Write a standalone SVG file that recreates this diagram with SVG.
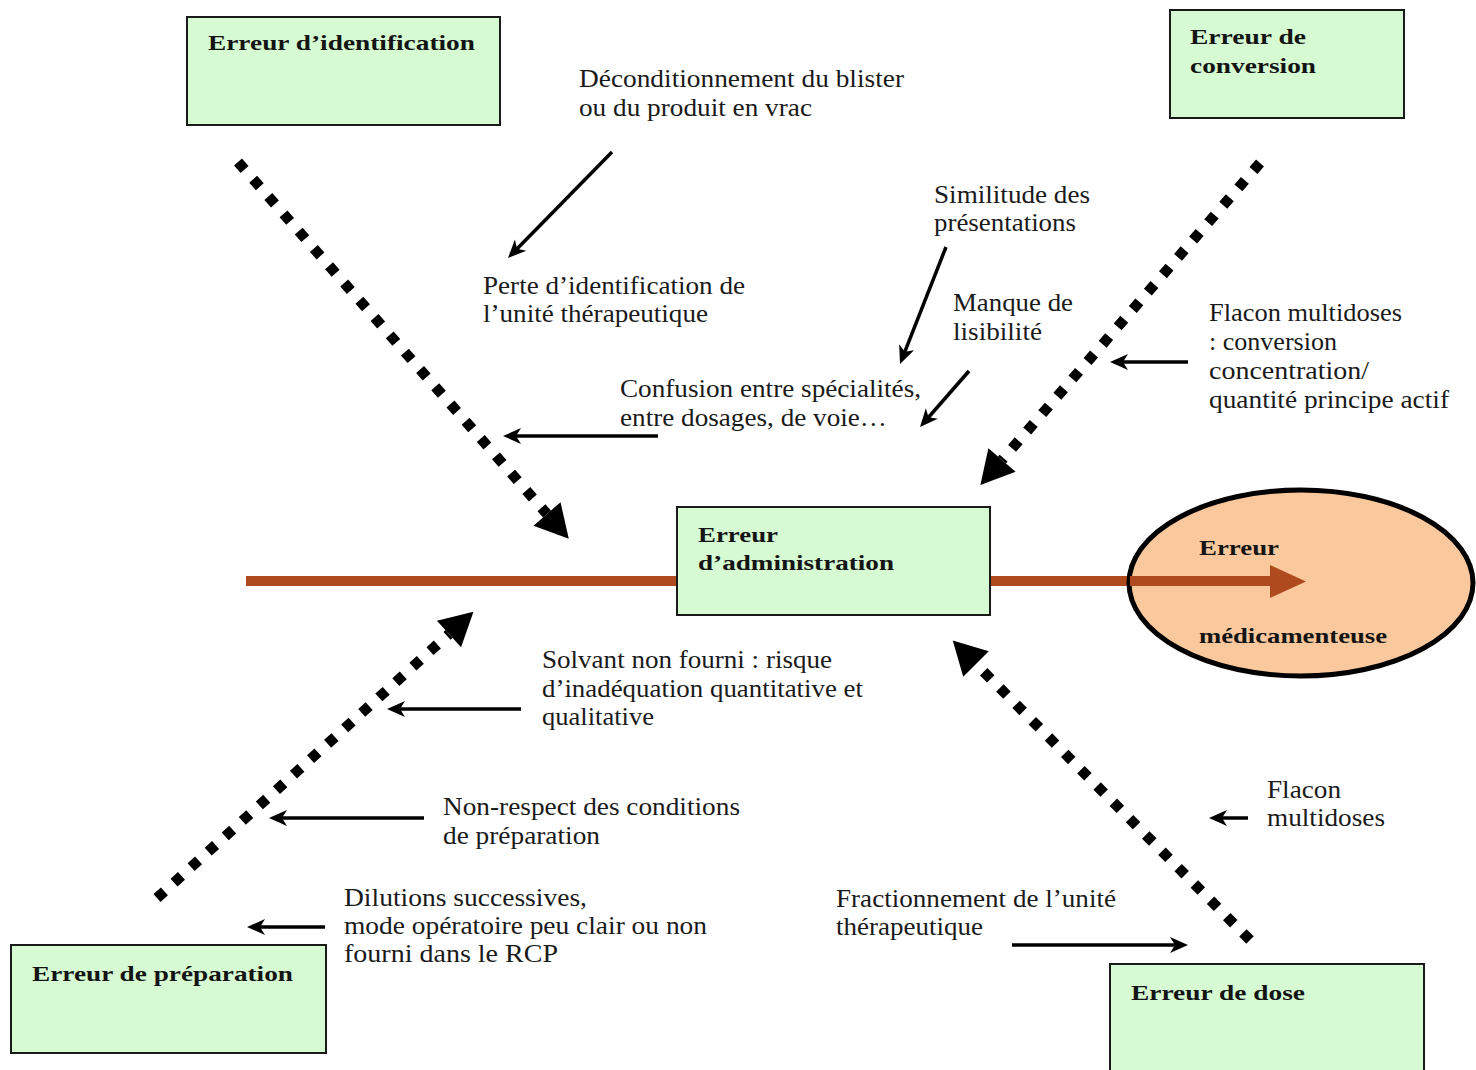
<svg xmlns="http://www.w3.org/2000/svg" width="1476" height="1070" viewBox="0 0 1476 1070">
  <style>
    .box { fill: #D6FBD2; stroke: #1a1a1a; stroke-width: 2; }
    .effect { fill: #F9C89C; stroke: #000; stroke-width: 5; }
    .title { font-family: "Liberation Serif", "Times New Roman", serif; font-weight: bold; font-size: 21px; fill: #141414; }
    .note { font-family: "Liberation Serif", "Times New Roman", serif; font-size: 25px; fill: #1a1a1a; }
    .spine { stroke: #AE4A1E; stroke-width: 10; fill: none; }
    .branch { stroke: #000; stroke-width: 10.5; stroke-dasharray: 10 13; fill: none; }
    .cause { stroke: #000; stroke-width: 3.5; fill: none; }
  </style>
  <defs>
    <marker id="bigHead" markerUnits="userSpaceOnUse" markerWidth="34" markerHeight="36" refX="0" refY="18" orient="auto" overflow="visible">
      <path d="M0,0 L33,18 L0,36 z" fill="#000"/>
    </marker>
    <marker id="smallHead" markerUnits="userSpaceOnUse" markerWidth="18" markerHeight="16" refX="6" refY="8" orient="auto" overflow="visible">
      <path d="M0,0 L18,8 L0,16 L5,8 z" fill="#000"/>
    </marker>
  </defs>

  <rect x="0" y="0" width="1476" height="1070" fill="#fff"/>

  <!-- main spine leading to the effect -->
  <g id="connectors">
    <line class="spine" x1="246" y1="581" x2="1272" y2="581"/>

    <!-- dotted category branches -->
    <line class="branch" x1="238" y1="162" x2="547" y2="514" marker-end="url(#bigHead)"/>
    <line class="branch" x1="1260" y1="163" x2="1002" y2="460" marker-end="url(#bigHead)"/>
    <line class="branch" x1="157" y1="898" x2="449" y2="634" marker-end="url(#bigHead)"/>
    <line class="branch" x1="1250" y1="940" x2="976" y2="664" marker-end="url(#bigHead)"/>

    <!-- cause arrows -->
    <line class="cause" x1="612" y1="152" x2="516.4" y2="249.4" marker-end="url(#smallHead)"/>
    <line class="cause" x1="658" y1="436" x2="515" y2="436" marker-end="url(#smallHead)"/>
    <line class="cause" x1="946" y1="247" x2="904.4" y2="352.8" marker-end="url(#smallHead)"/>
    <line class="cause" x1="969" y1="371" x2="927.9" y2="418" marker-end="url(#smallHead)"/>
    <line class="cause" x1="1188" y1="362" x2="1122" y2="362" marker-end="url(#smallHead)"/>
    <line class="cause" x1="521" y1="709" x2="399" y2="709" marker-end="url(#smallHead)"/>
    <line class="cause" x1="424" y1="818" x2="281" y2="818" marker-end="url(#smallHead)"/>
    <line class="cause" x1="325" y1="927" x2="259" y2="927" marker-end="url(#smallHead)"/>
    <line class="cause" x1="1248" y1="818" x2="1221" y2="818" marker-end="url(#smallHead)"/>
    <line class="cause" x1="1012" y1="945" x2="1176" y2="945" marker-end="url(#smallHead)"/>
  </g>

  <!-- category boxes -->
  <g id="identification">
    <rect class="box" x="187" y="17" width="313" height="108"/>
    <text class="title" x="208" y="50" textLength="267" lengthAdjust="spacingAndGlyphs">Erreur d’identification</text>
  </g>
  <g id="conversion">
    <rect class="box" x="1170" y="10" width="234" height="108"/>
    <text class="title" x="1190" y="44" textLength="116" lengthAdjust="spacingAndGlyphs">Erreur de</text>
    <text class="title" x="1190" y="73" textLength="126" lengthAdjust="spacingAndGlyphs">conversion</text>
  </g>
  <g id="administration">
    <rect class="box" x="677" y="507" width="313" height="108"/>
    <text class="title" x="698" y="542" textLength="80" lengthAdjust="spacingAndGlyphs">Erreur</text>
    <text class="title" x="698" y="570" textLength="196" lengthAdjust="spacingAndGlyphs">d’administration</text>
  </g>
  <g id="preparation">
    <rect class="box" x="11" y="945" width="315" height="108"/>
    <text class="title" x="32" y="981" textLength="261" lengthAdjust="spacingAndGlyphs">Erreur de préparation</text>
  </g>
  <g id="dose">
    <rect class="box" x="1110" y="964" width="314" height="112"/>
    <text class="title" x="1131" y="1000" textLength="174" lengthAdjust="spacingAndGlyphs">Erreur de dose</text>
  </g>

  <!-- effect: the spine's arrowhead is drawn over the ellipse -->
  <g id="effet">
    <ellipse class="effect" cx="1301" cy="583" rx="172" ry="93"/>
    <line class="spine" x1="1130" y1="581" x2="1272" y2="581"/>
    <polygon points="1270,565 1306,581.5 1270,598" fill="#AE4A1E"/>
    <text class="title" x="1199" y="555" textLength="80" lengthAdjust="spacingAndGlyphs">Erreur</text>
    <text class="title" x="1199" y="643" textLength="188" lengthAdjust="spacingAndGlyphs">médicamenteuse</text>
  </g>

  <!-- cause labels -->
  <g id="cause-deconditionnement">
    <text class="note" x="579" y="87" textLength="325" lengthAdjust="spacingAndGlyphs">Déconditionnement du blister</text>
    <text class="note" x="579" y="116" textLength="233" lengthAdjust="spacingAndGlyphs">ou du produit en vrac</text>
  </g>
  <g id="cause-perte">
    <text class="note" x="483" y="294" textLength="262" lengthAdjust="spacingAndGlyphs">Perte d’identification de</text>
    <text class="note" x="483" y="322" textLength="225" lengthAdjust="spacingAndGlyphs">l’unité thérapeutique</text>
  </g>
  <g id="cause-similitude">
    <text class="note" x="934" y="203" textLength="156" lengthAdjust="spacingAndGlyphs">Similitude des</text>
    <text class="note" x="934" y="231" textLength="142" lengthAdjust="spacingAndGlyphs">présentations</text>
  </g>
  <g id="cause-lisibilite">
    <text class="note" x="953" y="311" textLength="120" lengthAdjust="spacingAndGlyphs">Manque de</text>
    <text class="note" x="953" y="340" textLength="89" lengthAdjust="spacingAndGlyphs">lisibilité</text>
  </g>
  <g id="cause-confusion">
    <text class="note" x="620" y="397" textLength="301" lengthAdjust="spacingAndGlyphs">Confusion entre spécialités,</text>
    <text class="note" x="620" y="426" textLength="267" lengthAdjust="spacingAndGlyphs">entre dosages, de voie…</text>
  </g>
  <g id="cause-flacon-conversion">
    <text class="note" x="1209" y="321" textLength="193" lengthAdjust="spacingAndGlyphs">Flacon multidoses</text>
    <text class="note" x="1209" y="350" textLength="128" lengthAdjust="spacingAndGlyphs">: conversion</text>
    <text class="note" x="1209" y="379" textLength="160" lengthAdjust="spacingAndGlyphs">concentration/</text>
    <text class="note" x="1209" y="408" textLength="240" lengthAdjust="spacingAndGlyphs">quantité principe actif</text>
  </g>
  <g id="cause-solvant">
    <text class="note" x="542" y="668" textLength="290" lengthAdjust="spacingAndGlyphs">Solvant non fourni : risque</text>
    <text class="note" x="542" y="697" textLength="321" lengthAdjust="spacingAndGlyphs">d’inadéquation quantitative et</text>
    <text class="note" x="542" y="725" textLength="112" lengthAdjust="spacingAndGlyphs">qualitative</text>
  </g>
  <g id="cause-conditions">
    <text class="note" x="443" y="815" textLength="297" lengthAdjust="spacingAndGlyphs">Non-respect des conditions</text>
    <text class="note" x="443" y="844" textLength="157" lengthAdjust="spacingAndGlyphs">de préparation</text>
  </g>
  <g id="cause-dilutions">
    <text class="note" x="344" y="906" textLength="243" lengthAdjust="spacingAndGlyphs">Dilutions successives,</text>
    <text class="note" x="344" y="934" textLength="363" lengthAdjust="spacingAndGlyphs">mode opératoire peu clair ou non</text>
    <text class="note" x="344" y="962" textLength="214" lengthAdjust="spacingAndGlyphs">fourni dans le RCP</text>
  </g>
  <g id="cause-fractionnement">
    <text class="note" x="836" y="907" textLength="280" lengthAdjust="spacingAndGlyphs">Fractionnement de l’unité</text>
    <text class="note" x="836" y="935" textLength="147" lengthAdjust="spacingAndGlyphs">thérapeutique</text>
  </g>
  <g id="cause-flacon-dose">
    <text class="note" x="1267" y="798" textLength="74" lengthAdjust="spacingAndGlyphs">Flacon</text>
    <text class="note" x="1267" y="826" textLength="118" lengthAdjust="spacingAndGlyphs">multidoses</text>
  </g>
</svg>
